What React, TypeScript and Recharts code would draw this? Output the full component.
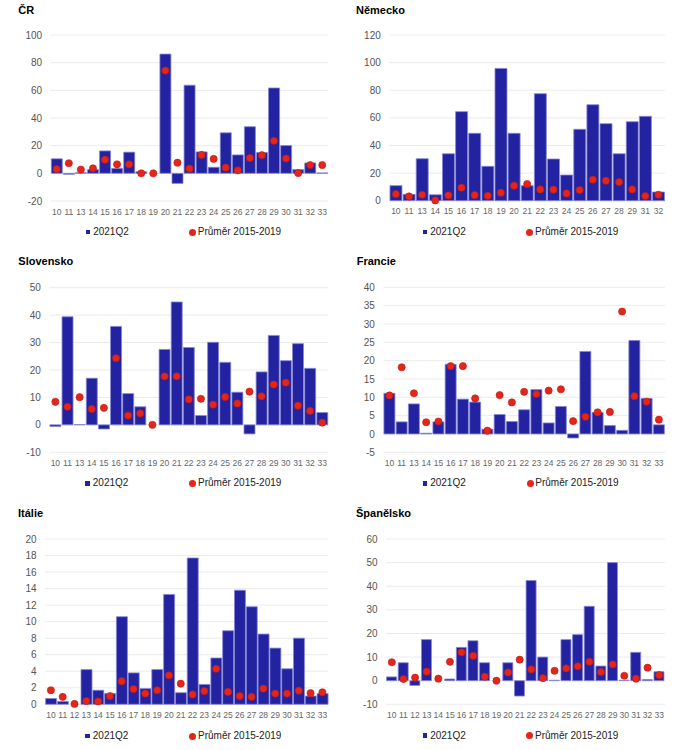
import React from "react";
import { ComposedChart, Bar, Scatter, XAxis, YAxis, CartesianGrid } from "recharts";

// ČR
const czCats = ["10", "11", "13", "14", "15", "16", "17", "18", "19", "20", "21", "22", "23", "24", "25", "26", "27", "28", "29", "30", "31", "32", "33"];
const czQ2 = [10.5, -0.7, 0.5, 2.7, 16.2, 3.6, 15.3, 1.2, 0, 86.2, -7.3, 63.7, 15.5, 4.4, 29.3, 13.3, 33.7, 15, 61.7, 20.1, 2.7, 7.5, 0.3];
const czAvg = [3.1, 7.3, 2.7, 3.6, 9.9, 6.5, 6.5, 0, 0, 74.3, 7.7, 3.4, 13.3, 10.4, 4.1, 2.2, 11.1, 13.1, 23.5, 10.7, 0.2, 6, 6];
const czTicks = [-20, 0, 20, 40, 60, 80, 100];

// Německo
const deCats = ["10", "11", "13", "14", "15", "16", "17", "18", "19", "20", "21", "22", "23", "24", "25", "26", "27", "28", "29", "31", "32"];
const deQ2 = [10.9, 4.6, 30.4, 4.3, 34, 64.5, 48.8, 24.9, 95.8, 48.8, 10.9, 77.5, 30.2, 18.6, 51.7, 69.5, 55.8, 34, 57.2, 61.1, 6.3];
const deAvg = [4.8, 3.1, 4.3, 0.2, 3.9, 9.4, 4.1, 3.6, 5.8, 10.9, 12.1, 8.2, 8, 5.3, 7.7, 15.2, 14.5, 13.5, 8.2, 3.4, 4.3];
const deTicks = [0, 20, 40, 60, 80, 100, 120];

// Slovensko
const skCats = ["10", "11", "13", "14", "15", "16", "17", "18", "19", "20", "21", "22", "23", "24", "25", "26", "27", "28", "29", "30", "31", "32", "33"];
const skQ2 = [-0.6, 39.4, 0.1, 17, -1.5, 35.9, 11.4, 6.6, 0, 27.5, 44.8, 28.2, 3.4, 30.1, 22.8, 11.9, -3.3, 19.3, 32.6, 23.4, 29.6, 20.6, 4.5];
const skAvg = [8.4, 6.6, 10.1, 5.8, 6.2, 24.3, 3.4, 4.2, 0, 17.7, 17.7, 9.3, 9.5, 7.4, 10.2, 7.8, 12.1, 10.4, 14.7, 15.4, 7, 5.1, 0.8];
const skTicks = [-10, 0, 10, 20, 30, 40, 50];

// Francie
const frCats = ["10", "11", "13", "14", "15", "16", "17", "18", "19", "20", "21", "22", "23", "24", "25", "26", "27", "28", "29", "30", "31", "32", "33"];
const frQ2 = [11.1, 3.3, 8.2, 0.2, 3.3, 19, 9.5, 8.7, 1.3, 5.3, 3.4, 6.6, 12.1, 3, 7.5, -1.1, 22.5, 5.9, 2.3, 1, 25.5, 9.7, 2.5];
const frAvg = [10.5, 18.2, 11.1, 3.2, 3.4, 18.5, 18.5, 9.7, 0.9, 10.6, 8.6, 11.5, 10.9, 11.8, 12.2, 3.5, 4.7, 5.9, 6, 33.4, 10.3, 8.8, 3.9];
const frTicks = [-5, 0, 5, 10, 15, 20, 25, 30, 35, 40];

// Itálie
const itCats = ["10", "11", "12", "13", "14", "15", "16", "17", "18", "19", "20", "21", "22", "23", "24", "25", "26", "27", "28", "29", "30", "31", "32", "33"];
const itQ2 = [0.7, 0.35, 0, 4.2, 1.7, 1.3, 10.6, 3.8, 1.9, 4.2, 13.3, 1.4, 17.7, 2.4, 5.6, 8.9, 13.8, 11.8, 8.5, 6.8, 4.3, 8, 1, 1.3];
const itAvg = [1.7, 0.9, 0.04, 0.4, 0.35, 1, 2.8, 1.85, 1.3, 1.7, 3.5, 2.5, 1.2, 1.6, 4.3, 1.5, 1, 0.9, 1.9, 1.3, 1.3, 1.65, 1.35, 1.45];
const itTicks = [0, 2, 4, 6, 8, 10, 12, 14, 16, 18, 20];

// Španělsko
const esCats = ["10", "11", "12", "13", "14", "15", "16", "17", "18", "19", "20", "21", "22", "23", "24", "25", "26", "27", "28", "29", "30", "31", "32", "33"];
const esQ2 = [1.6, 7.6, -2, 17.4, 0, 0.7, 14.1, 16.9, 7.6, 0, 7.6, -6.5, 42.4, 10, 0.2, 17.4, 19.5, 31.5, 6.2, 50, 0.2, 12, 0.5, 3.8];
const esAvg = [7.8, 0.7, 1.3, 3.8, 0.85, 8, 12, 10.5, 1.7, 0, 3.5, 8.9, 4.8, 1.1, 4.2, 5.2, 6.1, 8, 3.7, 6.9, 2.1, 0.85, 5.5, 2.4];
const esTicks = [-10, 0, 10, 20, 30, 40, 50, 60];

const SERIES_Q2 = "2021Q2";
const SERIES_AVG = "Průměr 2015-2019";

const FONT = '"Liberation Sans", Arial, sans-serif';
const BAR_FILL = "#2323a1";
const BAR_EDGE = "#8686d6";
const DOT_FILL = "#e3261b";
const CHART_H = 245;
const XAXIS_H = 20;

const toRows = (cats: string[], q2: number[], avg: number[]) =>
  cats.map((c, i) => ({ cat: c, q2: q2[i], avg: avg[i] }));

const RedDot = (props: any) => {
  const { cx, cy } = props;
  if (cx == null || cy == null) return null;
  return <circle cx={cx} cy={cy} r={3.6} fill={DOT_FILL} stroke="#c21a10" strokeWidth={0.6} />;
};

function Panel(p: any) {
  const data = toRows(p.cats, p.q2, p.avg);
  const margin = {
    top: p.plotTop - p.y,
    right: p.x + p.w - p.plotRight,
    bottom: CHART_H - (p.plotBottom - p.y) - XAXIS_H,
    left: 0,
  };
  return (
    <>
      <div
        style={{
          position: "absolute",
          left: p.titleX,
          top: p.titleBase - 9.1,
          fontFamily: FONT,
          fontWeight: "bold",
          fontSize: 11,
          lineHeight: "11px",
          color: "#000",
          whiteSpace: "nowrap",
        }}
      >
        {p.title}
      </div>
      <div style={{ position: "absolute", left: p.x, top: p.y, width: p.w, height: CHART_H }}>
        <ComposedChart width={p.w} height={CHART_H} data={data} margin={margin} barCategoryGap="5%">
          <CartesianGrid vertical={false} stroke="#ebebeb" />
          <XAxis
            dataKey="cat"
            interval={0}
            height={XAXIS_H}
            tickLine={false}
            axisLine={false}
            tickSize={0}
            tickMargin={7.5}
            tick={{ fontSize: 8.5, fill: "#666", fontFamily: FONT }}
          />
          <YAxis
            type="number"
            domain={[p.ticks[0], p.ticks[p.ticks.length - 1]]}
            ticks={p.ticks}
            interval={0}
            width={p.plotLeft - p.x}
            tickLine={false}
            axisLine={false}
            tickSize={0}
            tickMargin={8.5}
            tick={{ fontSize: 10, fill: "#555", fontFamily: FONT }}
          />
          <Bar dataKey="q2" name={SERIES_Q2} fill={BAR_FILL} stroke={BAR_EDGE} strokeWidth={0.8} isAnimationActive={false} />
          <Scatter dataKey="avg" name={SERIES_AVG} fill={DOT_FILL} shape={RedDot} isAnimationActive={false} />
        </ComposedChart>
      </div>
      <div
        style={{
          position: "absolute",
          left: p.sqX,
          top: p.legendY - 6,
          height: 12,
          display: "flex",
          alignItems: "center",
          fontFamily: FONT,
          fontSize: 10,
          lineHeight: "12px",
          color: "#222",
          whiteSpace: "nowrap",
        }}
      >
        <span style={{ display: "inline-block", width: 4.5, height: 4.5, background: BAR_FILL, marginRight: 3 }} />
        <span>{SERIES_Q2}</span>
      </div>
      <div
        style={{
          position: "absolute",
          left: p.dotX - 3.5,
          top: p.legendY - 6,
          height: 12,
          display: "flex",
          alignItems: "center",
          fontFamily: FONT,
          fontSize: 10,
          lineHeight: "12px",
          color: "#222",
          whiteSpace: "nowrap",
        }}
      >
        <span style={{ display: "inline-block", width: 7, height: 7, borderRadius: "50%", background: DOT_FILL, marginRight: 1.8 }} />
        <span>{SERIES_AVG}</span>
      </div>
    </>
  );
}

export default function App() {
  return (
    <div style={{ position: "absolute", left: 0, top: 0, width: 700, height: 747, background: "#fff", overflow: "hidden" }}>
      <Panel title="ČR" cats={czCats} q2={czQ2} avg={czAvg} ticks={czTicks}
        x={0} y={0} w={338} plotLeft={50.7} plotRight={328.3} plotTop={35} plotBottom={201}
        titleX={18.3} titleBase={14} legendY={232} sqX={85.7} dotX={192.5} />
      <Panel title="Německo" cats={deCats} q2={deQ2} avg={deAvg} ticks={deTicks}
        x={338} y={0} w={362} plotLeft={389.3} plotRight={665} plotTop={35} plotBottom={200.7}
        titleX={356} titleBase={14} legendY={232} sqX={422.7} dotX={529.7} />
      <Panel title="Slovensko" cats={skCats} q2={skQ2} avg={skAvg} ticks={skTicks}
        x={0} y={251} w={338} plotLeft={49.3} plotRight={328.3} plotTop={287.7} plotBottom={452.3}
        titleX={18.3} titleBase={265.5} legendY={483.3} sqX={85.3} dotX={192.7} />
      <Panel title="Francie" cats={frCats} q2={frQ2} avg={frAvg} ticks={frTicks}
        x={338} y={251} w={362} plotLeft={383.3} plotRight={665} plotTop={287.3} plotBottom={452.3}
        titleX={356.7} titleBase={265.5} legendY={483.3} sqX={422.7} dotX={530} />
      <Panel title="Itálie" cats={itCats} q2={itQ2} avg={itAvg} ticks={itTicks}
        x={0} y={502} w={338} plotLeft={45} plotRight={328.3} plotTop={539} plotBottom={704.3}
        titleX={18} titleBase={517.5} legendY={736} sqX={85.3} dotX={192.7} />
      <Panel title="Španělsko" cats={esCats} q2={esQ2} avg={esAvg} ticks={esTicks}
        x={338} y={502} w={362} plotLeft={386} plotRight={665} plotTop={539} plotBottom={704.3}
        titleX={356} titleBase={517.5} legendY={735.5} sqX={422.7} dotX={529.7} />
    </div>
  );
}
